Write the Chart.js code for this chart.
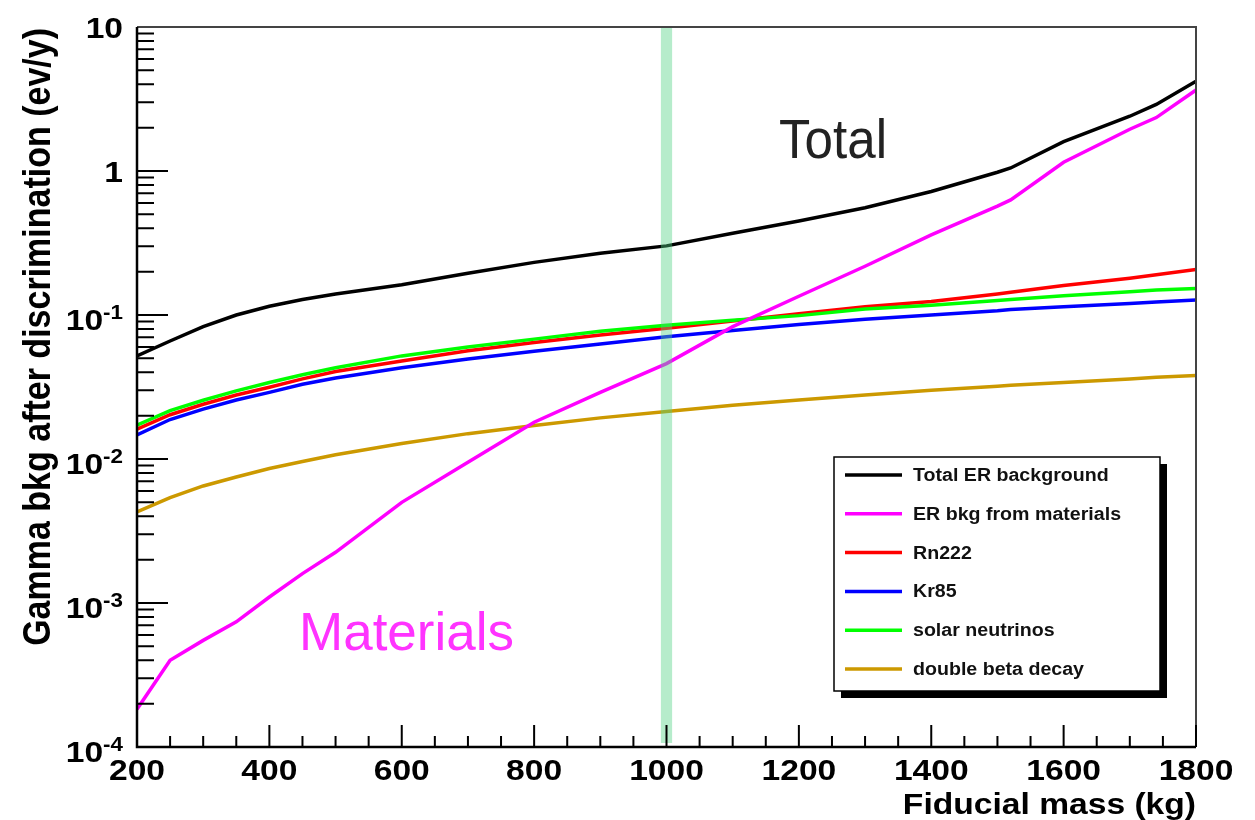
<!DOCTYPE html>
<html>
<head>
<meta charset="utf-8">
<script src="https://cdn.jsdelivr.net/npm/chart.js@4.4.0/dist/chart.umd.min.js"></script>
<style>
    html, body { margin: 0; padding: 0; background: #fff; }
    #wrap { width: 1255px; height: 820px; }
</style>
</head>
<body>
<div id="wrap"><canvas id="chart" width="1255" height="820"></canvas></div>
<script>
// ============================================
// Gamma (ER) background vs fiducial mass
// ============================================

// Fiducial mass (kg)
const masses = [200, 250, 300, 350, 400, 450, 500, 600, 700, 800, 900, 1000, 1100, 1200, 1300, 1400, 1500, 1520, 1600, 1700, 1740, 1800];

// ev/y after discrimination
const totalER    = [0.052, 0.066, 0.083, 0.100, 0.115, 0.128, 0.140, 0.162, 0.195, 0.232, 0.268, 0.302, 0.370, 0.450, 0.555, 0.720, 0.980, 1.05, 1.60, 2.40, 2.90, 4.20];
const materials  = [0.000183, 0.00040, 0.00055, 0.00074, 0.0011, 0.0016, 0.00225, 0.0050, 0.0095, 0.018, 0.029, 0.046, 0.083, 0.135, 0.218, 0.36, 0.57, 0.63, 1.15, 1.95, 2.35, 3.65];
const rn222      = [0.0161, 0.0203, 0.0240, 0.0278, 0.0315, 0.0360, 0.0405, 0.0480, 0.0565, 0.0645, 0.0725, 0.0810, 0.0910, 0.1020, 0.1140, 0.1240, 0.1400, 0.1440, 0.1600, 0.1800, 0.1900, 0.2070];
const kr85       = [0.0147, 0.0188, 0.0222, 0.0257, 0.0290, 0.0330, 0.0365, 0.0430, 0.0495, 0.0560, 0.0630, 0.0705, 0.0780, 0.0860, 0.0935, 0.1000, 0.1070, 0.1090, 0.1140, 0.1200, 0.1230, 0.1270];
const solarNu    = [0.0172, 0.0217, 0.0256, 0.0297, 0.0340, 0.0385, 0.0430, 0.0520, 0.0600, 0.0680, 0.0770, 0.0850, 0.0920, 0.0990, 0.1100, 0.1170, 0.1260, 0.1280, 0.1360, 0.1450, 0.1490, 0.1530];
const doubleBeta = [0.0043, 0.0054, 0.0065, 0.0075, 0.0086, 0.0096, 0.0107, 0.0128, 0.0150, 0.0171, 0.0193, 0.0214, 0.0236, 0.0257, 0.0278, 0.0300, 0.0320, 0.0325, 0.0340, 0.0360, 0.0370, 0.0380];

const legendLabels = ['Total ER background', 'ER bkg from materials', 'Rn222', 'Kr85', 'solar neutrinos', 'double beta decay'];
const legendColors = ['#000000', '#ff00ff', '#ff0000', '#0000ff', '#00ff00', '#cc9900'];

const xTickLabels = [200, 400, 600, 800, 1000, 1200, 1400, 1600, 1800];
const yTickExponents = [1, 0, -1, -2, -3, -4];

const bandMass = 1000;
const xTitle = 'Fiducial mass (kg)';
const yTitle = 'Gamma bkg after discrimination (ev/y)';

const FONT = "'Liberation Sans', Arial, Helvetica, sans-serif";
const SX = 1.12; // the original picture is a bit stretched sideways

function toPoints(values) {
    return masses.map((m, i) => ({ x: m, y: values[i] }));
}

function lineSet(label, values, color, order) {
    return {
        label: label,
        data: toPoints(values),
        borderColor: color,
        backgroundColor: color,
        borderWidth: 3.5,
        pointRadius: 0,
        tension: 0,
        fill: false,
        order: order
    };
}

function drawText(ctx, text, x, y, size, weight, align, sx, color) {
    ctx.save();
    ctx.translate(x, y);
    ctx.scale(sx, 1);
    ctx.font = `${weight} ${size}px ${FONT}`;
    ctx.textAlign = align;
    ctx.textBaseline = 'alphabetic';
    ctx.fillStyle = color || '#000';
    ctx.fillText(text, 0, 0);
    ctx.restore();
}

function textWidth(ctx, text, size, weight, sx) {
    ctx.save();
    ctx.font = `${weight} ${size}px ${FONT}`;
    const w = ctx.measureText(text).width * sx;
    ctx.restore();
    return w;
}

// Green band at 1000 kg, drawn over the lines (semi transparent)
const bandPlugin = {
    id: 'band',
    afterDatasetsDraw(chart) {
        const { ctx, chartArea, scales } = chart;
        const x1 = scales.x.getPixelForValue(bandMass - 8.5);
        const x2 = scales.x.getPixelForValue(bandMass + 8.5);
        ctx.save();
        ctx.fillStyle = 'rgba(80, 210, 130, 0.42)';
        ctx.fillRect(x1, chartArea.top + 1, x2 - x1, chartArea.bottom - chartArea.top - 5);
        ctx.restore();
    }
};

// ROOT-like frame, inward ticks, labels and legend
const framePlugin = {
    id: 'frame',
    afterDraw(chart) {
        const { ctx, chartArea, scales } = chart;
        const { left, right, top, bottom } = chartArea;
        const xs = scales.x, ys = scales.y;

        ctx.save();
        // top + right border
        ctx.strokeStyle = '#444';
        ctx.lineWidth = 2;
        ctx.beginPath();
        ctx.moveTo(left, top);
        ctx.lineTo(right, top);
        ctx.lineTo(right, bottom);
        ctx.stroke();
        // left + bottom axes
        ctx.strokeStyle = '#000';
        ctx.lineWidth = 2.5;
        ctx.beginPath();
        ctx.moveTo(left, top);
        ctx.lineTo(left, bottom);
        ctx.lineTo(right, bottom);
        ctx.stroke();

        // y ticks
        ctx.lineWidth = 2;
        ctx.beginPath();
        for (let e = -4; e <= 0; e++) {
            for (let k = 1; k <= 9; k++) {
                const v = k * Math.pow(10, e);
                const py = ys.getPixelForValue(v);
                const len = k === 1 ? 31 : 17;
                ctx.moveTo(left, py);
                ctx.lineTo(left + len, py);
            }
        }
        ctx.stroke();

        // x ticks every 50 kg
        ctx.beginPath();
        for (let m = 200; m <= 1800; m += 50) {
            const px = xs.getPixelForValue(m);
            const len = m % 200 === 0 ? 22 : 11;
            ctx.moveTo(px, bottom);
            ctx.lineTo(px, bottom - len);
        }
        ctx.stroke();
        ctx.restore();

        // x tick labels
        xTickLabels.forEach(m => {
            drawText(ctx, String(m), xs.getPixelForValue(m), bottom + 33, 30, 'bold', 'center', SX);
        });

        // y tick labels with exponents
        const labelRight = 123;
        yTickExponents.forEach(e => {
            const py = ys.getPixelForValue(Math.pow(10, e));
            if (e === 1 || e === 0) {
                drawText(ctx, e === 1 ? '10' : '1', labelRight, py + 11, 30, 'bold', 'right', SX);
            } else {
                const sup = String(e);
                const wSup = textWidth(ctx, sup, 20, 'bold', SX);
                drawText(ctx, sup, labelRight, py + 4, 20, 'bold', 'right', SX);
                drawText(ctx, '10', labelRight - wSup, py + 15, 30, 'bold', 'right', SX);
            }
        });

        // axis titles
        drawText(ctx, xTitle, right, 814, 30, 'bold', 'right', SX);
        ctx.save();
        ctx.translate(50, top + 1);
        ctx.rotate(-Math.PI / 2);
        ctx.scale(1, SX);
        ctx.font = `bold 34px ${FONT}`;
        ctx.textAlign = 'right';
        ctx.fillStyle = '#000';
        ctx.fillText(yTitle, 0, 0);
        ctx.restore();

        // legend box with shadow
        const bx = 834, by = 457, bw = 326, bh = 234;
        ctx.save();
        ctx.fillStyle = '#000';
        ctx.fillRect(bx + 7, by + 7, bw, bh);
        ctx.fillStyle = '#fff';
        ctx.fillRect(bx, by, bw, bh);
        ctx.strokeStyle = '#000';
        ctx.lineWidth = 1.5;
        ctx.strokeRect(bx, by, bw, bh);
        ctx.lineWidth = 3.5;
        legendLabels.forEach((label, i) => {
            const ry = by + 18 + i * 38.8;
            ctx.strokeStyle = legendColors[i];
            ctx.beginPath();
            ctx.moveTo(bx + 11, ry);
            ctx.lineTo(bx + 68, ry);
            ctx.stroke();
            drawText(ctx, label, bx + 79, ry + 6, 17.5, 'bold', 'left', SX, '#111');
        });
        ctx.restore();

        // annotations
        drawText(ctx, 'Total', 779, 158, 55, 'normal', 'left', 0.93, '#222');
        drawText(ctx, 'Materials', 299, 650, 53, 'normal', 'left', 1, '#ff33ff');
    }
};

const ctx = document.getElementById('chart');

new Chart(ctx, {
    type: 'line',
    data: {
        datasets: [
            lineSet(legendLabels[0], totalER, legendColors[0], 1),
            lineSet(legendLabels[1], materials, legendColors[1], 0),
            lineSet(legendLabels[2], rn222, legendColors[2], 3),
            lineSet(legendLabels[3], kr85, legendColors[3], 4),
            lineSet(legendLabels[4], solarNu, legendColors[4], 2),
            lineSet(legendLabels[5], doubleBeta, legendColors[5], 5)
        ]
    },
    options: {
        responsive: false,
        animation: false,
        layout: {
            padding: { left: 137, right: 59, top: 27, bottom: 73 }
        },
        plugins: {
            legend: { display: false },
            tooltip: { enabled: false }
        },
        scales: {
            x: {
                type: 'linear',
                min: 200,
                max: 1800,
                display: false
            },
            y: {
                type: 'logarithmic',
                min: 1e-4,
                max: 10,
                display: false
            }
        }
    },
    plugins: [bandPlugin, framePlugin]
});
</script>
</body>
</html>
